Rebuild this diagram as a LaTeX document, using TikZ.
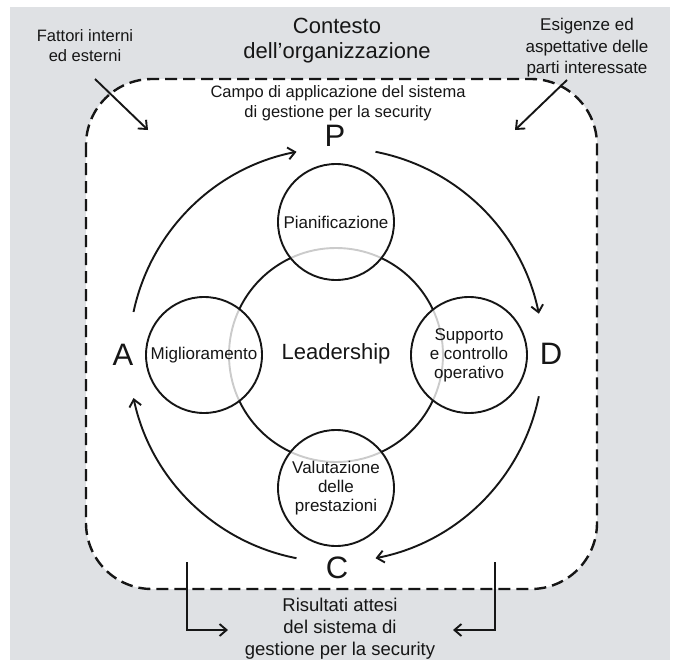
\documentclass[tikz,border=0pt]{standalone}
\usepackage{fontspec}
\setmainfont{Liberation Sans}
\usetikzlibrary{arrows.meta}
\definecolor{bggray}{RGB}{223,225,228}
\definecolor{ink}{RGB}{22,22,22}
\begin{document}
\begin{tikzpicture}[x=1pt,y=1pt,
  arr/.style={draw=ink, line width=1.9pt, -{Straight Barb[length=7pt,width=12pt]}},
  phase/.style={circle, draw=ink, line width=1.9pt, minimum size=116pt, inner sep=0pt,
     fill=white, fill opacity=0.78, text opacity=1, align=center,
     font=\fontsize{17}{19}\selectfont, text=ink},
  letter/.style={inner sep=0pt, font=\fontsize{31}{31}\selectfont, text=ink},
  lbl/.style={inner sep=0pt, align=center, text=ink}
]
\useasboundingbox (0,0) rectangle (675,-664);
\fill[bggray] (10,-7) rectangle (670,-660);
\draw[fill=white, draw=ink, line width=2.4pt, dash pattern=on 12pt off 6pt, rounded corners=66pt]
  (86,-79) rectangle (597,-589);

% texts outside
\node[lbl, font=\fontsize{22}{25}\selectfont] (ctx) at (337,-41) {Contesto\\dell'organizzazione};
\node[lbl, font=\fontsize{16.5}{20}\selectfont] (fat) at (85,-46) {Fattori interni\\ed esterni};
\node[lbl, font=\fontsize{17}{21.5}\selectfont] (esi) at (587,-48) {Esigenze ed\\aspettative delle\\parti interessate};
\node[lbl, font=\fontsize{16.5}{20}\selectfont] (campo) at (338,-103) {Campo di applicazione del sistema\\di gestione per la security};
\node[lbl, font=\fontsize{18.5}{22}\selectfont] (ris) at (340,-629) {Risultati attesi\\del sistema di\\gestione per la security};

% leadership
\coordinate (c0) at (336,-355);
\draw[ink, line width=1.9pt] (c0) circle[radius=107pt];
\node[inner sep=0pt, font=\fontsize{22}{22}\selectfont, text=ink] (lead) at (336,-354) {Leadership};

\node[phase] (pian) at (336,-222) {Pianificazione};
\node[phase] (migl) at (204,-355) {Miglioramento};
\node[phase] (supp) at (469,-355) {Supporto\\e controllo\\operativo};
\node[phase] (valu) at (336,-488) {Valutazione\\delle\\prestazioni};

% letters
\node[letter] (P) at (335,-136) {P};
\node[letter] (D) at (551,-354) {D};
\node[letter] (A) at (123,-355) {A};
\node[letter] (C) at (337,-568) {C};

% cycle arcs
\coordinate (aP) at ([shift={(168:207)}]c0);
\coordinate (pD) at ([shift={(79:207)}]c0);
\coordinate (dC) at ([shift={(-11.5:207)}]c0);
\coordinate (cA) at ([shift={(-101:207)}]c0);
\draw[arr] (aP) arc[start angle=168, end angle=101, radius=207pt];
\draw[arr] (pD) arc[start angle=79, end angle=11.5, radius=207pt];
\draw[arr] (dC) arc[start angle=-11.5, end angle=-79, radius=207pt];
\draw[arr] (cA) arc[start angle=-101, end angle=-168, radius=207pt];

% input arrows
\coordinate (fs) at (95,-79);
\coordinate (fe) at (148,-130);
\coordinate (es) at (567,-80);
\coordinate (ee) at (515,-130);
\draw[arr] (fs) -- (fe);
\draw[arr] (es) -- (ee);

% output brackets
\coordinate (ls) at (187,-562);
\coordinate (le) at (228,-630);
\coordinate (rs) at (495,-562);
\coordinate (re) at (453,-630);
\draw[arr] (ls) |- (le);
\draw[arr] (rs) |- (re);
\end{tikzpicture}
\end{document}
